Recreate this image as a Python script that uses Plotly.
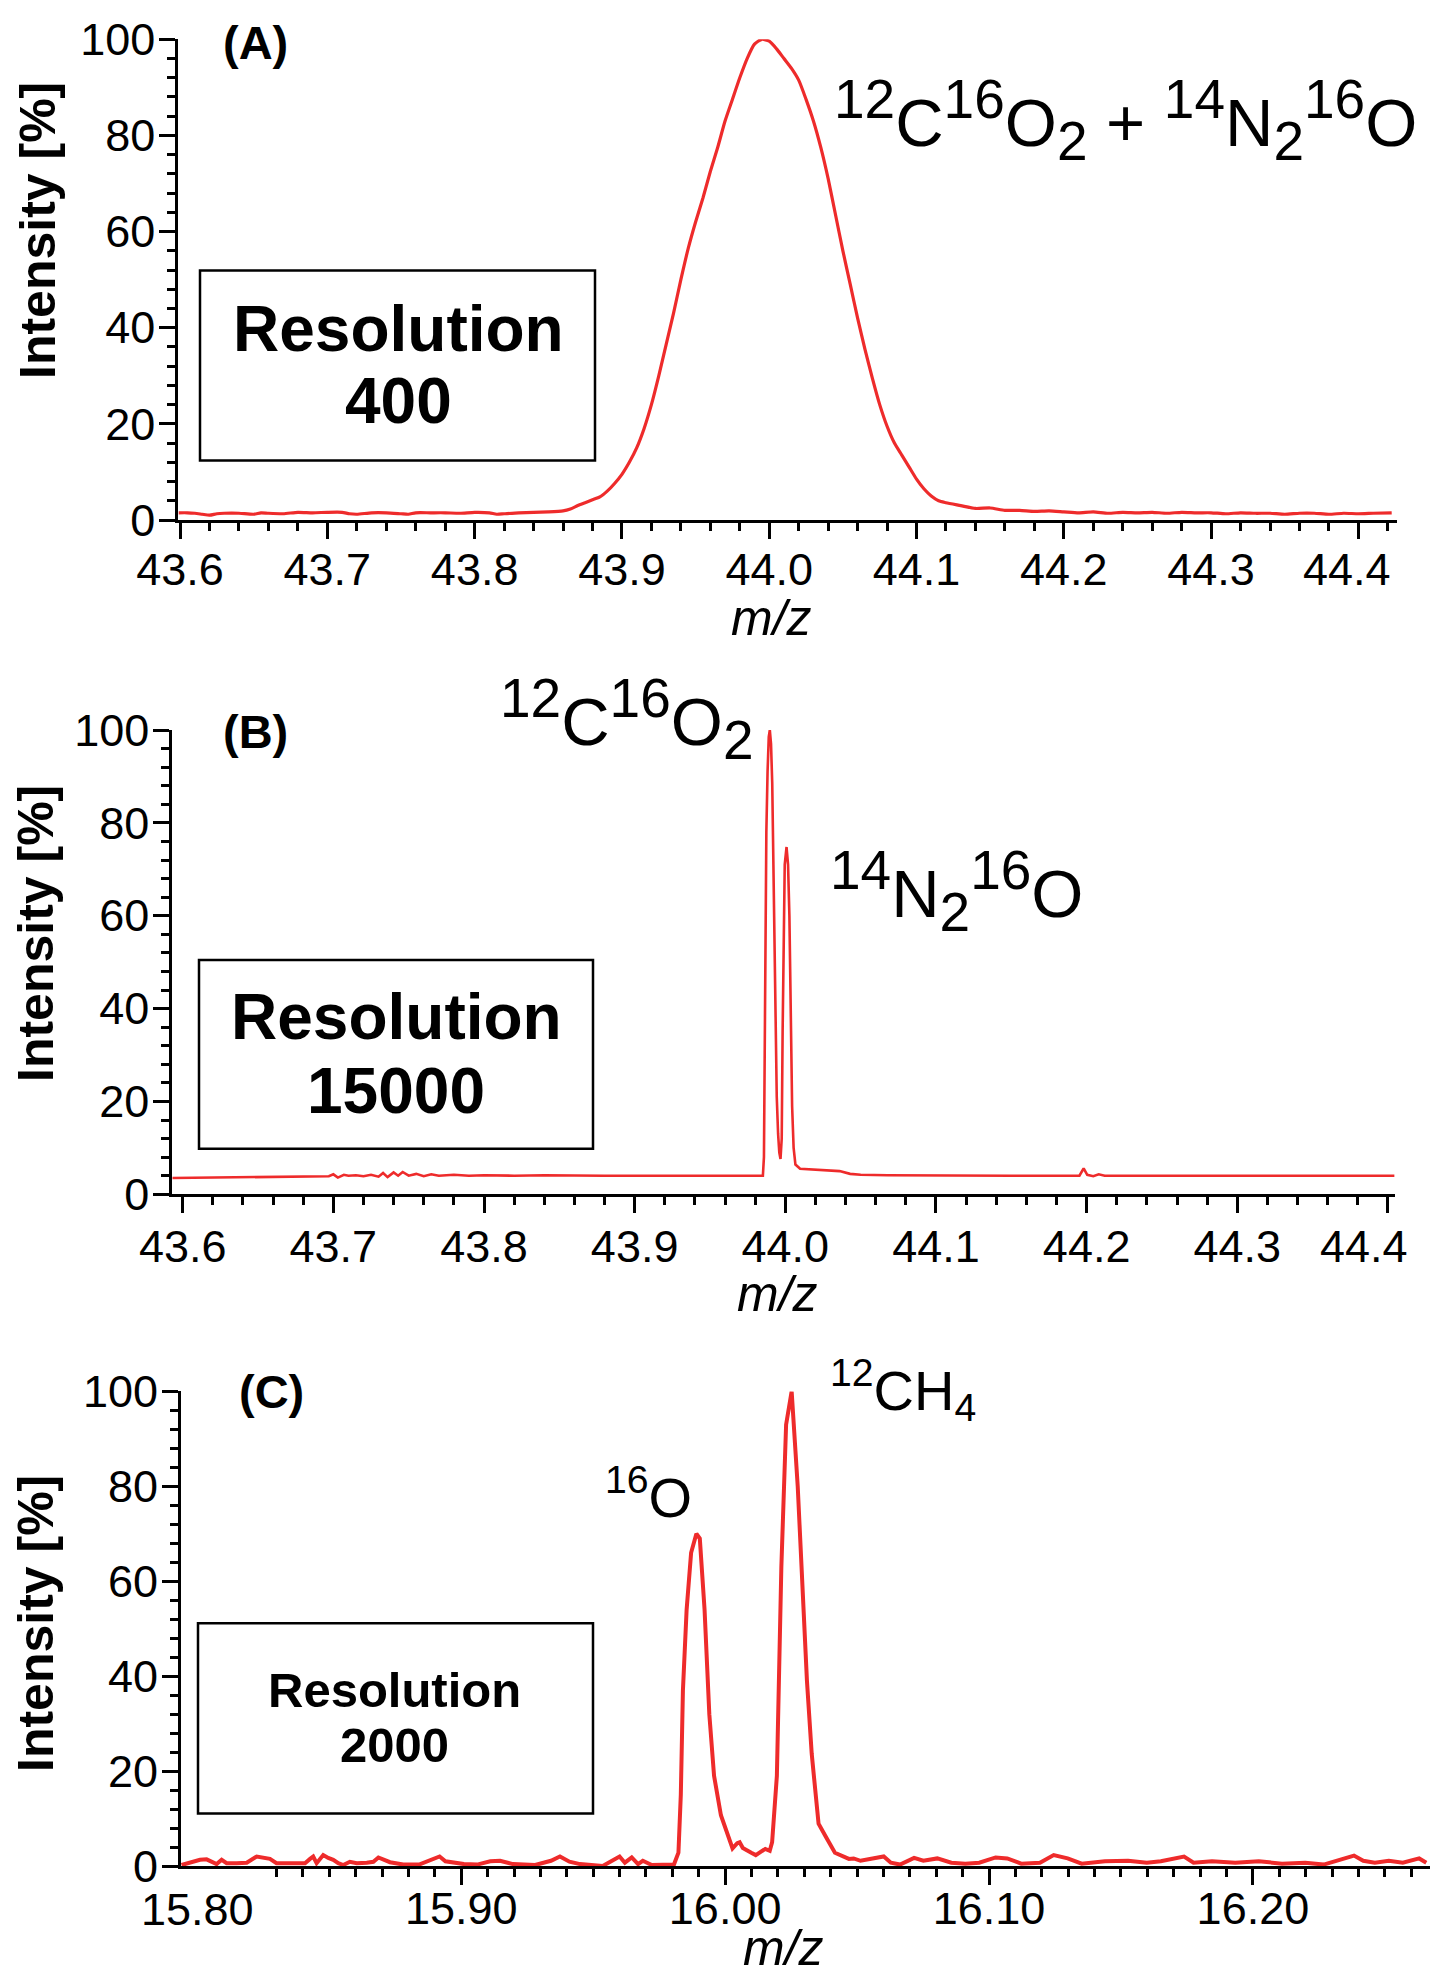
import plotly.graph_objects as go

W, H = 1430, 1967
RED = "#EE2B2B"
FONT = "Liberation Sans, Arial, Helvetica, sans-serif"

# ---------------- data ----------------
# Panel A : resolution 400
A_MZ = [43.599, 43.605, 43.61, 43.615, 43.62, 43.625, 43.63, 43.64, 43.65, 43.655,
        43.66, 43.67, 43.68, 43.69, 43.70, 43.71, 43.715, 43.72, 43.73, 43.74,
        43.75, 43.755, 43.76, 43.77, 43.78, 43.79, 43.80, 43.81, 43.815, 43.82,
        43.83, 43.84, 43.85, 43.86, 43.865, 43.87, 43.875, 43.88, 43.885, 43.89,
        43.895, 43.90, 43.905, 43.91, 43.915, 43.92, 43.925, 43.93, 43.935, 43.94,
        43.945, 43.95, 43.955, 43.96, 43.965, 43.97, 43.975, 43.98, 43.985, 43.99,
        43.995, 44.00, 44.005, 44.01, 44.015, 44.02, 44.025, 44.03, 44.035, 44.04,
        44.045, 44.05, 44.055, 44.06, 44.065, 44.07, 44.075, 44.08, 44.085, 44.09,
        44.095, 44.10, 44.105, 44.11, 44.115, 44.12, 44.13, 44.14, 44.15, 44.16,
        44.17, 44.18, 44.19, 44.20, 44.21, 44.22, 44.23, 44.24, 44.25, 44.26,
        44.27, 44.28, 44.29, 44.30, 44.31, 44.32, 44.33, 44.34, 44.35, 44.36,
        44.37, 44.38, 44.39, 44.40, 44.41, 44.4226]
A_INT = [1.5, 1.5, 1.4, 1.2, 1.0, 1.3, 1.4, 1.4, 1.2, 1.5,
         1.4, 1.3, 1.6, 1.5, 1.6, 1.6, 1.3, 1.2, 1.5, 1.5,
         1.3, 1.2, 1.5, 1.5, 1.5, 1.4, 1.6, 1.5, 1.2, 1.3,
         1.5, 1.6, 1.7, 1.9, 2.3, 3.0, 3.6, 4.2, 4.8, 6.0,
         7.6, 9.5, 12.0, 15.0, 19.0, 24.0, 30.0, 36.5, 43.0, 50.0,
         56.5, 62.0, 67.0, 72.5, 77.5, 83.0, 87.5, 92.0, 96.0, 99.0,
         100.0, 99.6, 98.0, 96.0, 94.0, 91.5, 87.5, 83.0, 77.5, 71.0,
         63.5, 56.0, 49.0, 42.0, 35.5, 29.5, 24.0, 19.5, 16.0, 13.5,
         11.0, 8.5, 6.5, 5.0, 4.0, 3.6, 3.0, 2.4, 2.5, 2.0,
         2.0, 1.8, 1.9, 1.7, 1.5, 1.7, 1.4, 1.6, 1.5, 1.6,
         1.4, 1.6, 1.5, 1.5, 1.3, 1.5, 1.4, 1.4, 1.2, 1.4,
         1.4, 1.2, 1.4, 1.3, 1.4, 1.5]

# Panel B : resolution 15000
B_MZ = [43.5931, 43.695, 43.697, 43.700, 43.703, 43.707, 43.710, 43.715, 43.720, 43.725,
        43.730, 43.733, 43.736, 43.740, 43.743, 43.746, 43.750, 43.755, 43.760, 43.765,
        43.770, 43.780, 43.790, 43.800, 43.820, 43.840, 43.860, 43.880, 43.900, 43.920,
        43.940, 43.960, 43.975, 43.982, 43.9851, 43.9858, 43.9862, 43.9866, 43.9874, 43.9882,
        43.9890, 43.9897, 43.9905, 43.9913, 43.9920, 43.9928, 43.9936, 43.9943, 43.9952, 43.9960,
        43.9968, 43.9976, 43.9982, 43.9988, 43.9996, 44.0008, 44.0018, 44.0027, 44.0036, 44.0045,
        44.0055, 44.0067, 44.0098, 44.020, 44.030, 44.036, 44.043, 44.050, 44.068, 44.100,
        44.150, 44.1952, 44.198, 44.2004, 44.2044, 44.208, 44.212, 44.250, 44.300, 44.350,
        44.4044]
B_INT = [3.5, 3.9, 3.9, 4.3, 3.6, 4.2, 4.0, 4.1, 3.9, 4.2,
         3.8, 4.6, 3.7, 4.7, 4.0, 4.8, 4.0, 4.4, 3.9, 4.3,
         4.0, 4.2, 4.0, 4.1, 4.0, 4.1, 4.0, 4.0, 4.0, 4.0,
         4.0, 4.0, 4.0, 4.0, 4.0, 8.0, 25.0, 54.0, 78.0, 91.0,
         98.5, 100.0, 97.0, 88.6, 73.0, 54.0, 35.0, 21.0, 13.0, 9.0,
         7.6, 12.0, 35.0, 58.0, 71.0, 74.8, 71.0, 60.0, 38.0, 19.0,
         10.0, 6.4, 5.5, 5.3, 5.1, 5.0, 4.4, 4.2, 4.1, 4.0,
         4.0, 4.0, 5.6, 4.2, 3.9, 4.3, 4.0, 4.0, 4.0, 4.0,
         4.0]

# Panel C : resolution 2000
C_MZ = [15.794, 15.7984, 15.801, 15.8035, 15.8054, 15.8073, 15.8092, 15.8111, 15.8149, 15.8187,
        15.8225, 15.825, 15.8275, 15.830, 15.8338, 15.8376, 15.8408, 15.8427, 15.8439, 15.8452,
        15.8477, 15.8496, 15.8515, 15.8534, 15.8553, 15.8578, 15.8604, 15.8642, 15.8667, 15.8686,
        15.873, 15.878, 15.884, 15.8918, 15.894, 15.901, 15.906, 15.911, 15.9147, 15.9196,
        15.928, 15.934, 15.9374, 15.941, 15.945, 15.9536, 15.960, 15.962, 15.9646, 15.967,
        15.9688, 15.9722, 15.979, 15.9806, 15.9823, 15.9832, 15.9840, 15.9854, 15.9871, 15.9891,
        15.9904, 15.9922, 15.9940, 15.9958, 15.9984, 16.0002, 16.0014, 16.0028, 16.0046, 16.0055,
        16.0067, 16.0081, 16.0099, 16.0116, 16.0134, 16.0152, 16.0169, 16.0178, 16.0196, 16.0213,
        16.0231, 16.0252, 16.0275, 16.0293, 16.0310, 16.0328, 16.0354, 16.0381, 16.0416, 16.0469,
        16.0487, 16.0513, 16.0557, 16.0601, 16.0628, 16.0663, 16.0716, 16.0751, 16.0804, 16.0857,
        16.0910, 16.0963, 16.1025, 16.1069, 16.1122, 16.1193, 16.1245, 16.1298, 16.1351, 16.1439,
        16.1527, 16.1598, 16.1651, 16.1739, 16.1775, 16.1845, 16.1933, 16.2022, 16.2110, 16.2198,
        16.2268, 16.2321, 16.2383, 16.2418, 16.2462, 16.2515, 16.2568, 16.2630, 16.2657]
C_INT = [0.2, 0.9, 1.3, 1.4, 0.9, 0.4, 1.3, 0.6, 0.6, 0.7,
         2.0, 1.7, 1.5, 0.6, 0.6, 0.7, 0.6, 1.5, 2.0, 0.6,
         2.3, 1.7, 1.3, 0.6, 0.2, 0.9, 0.6, 0.7, 0.9, 1.8,
         0.8, 0.3, 0.3, 2.0, 1.0, 0.4, 0.3, 1.0, 1.1, 0.4,
         0.2, 1.1, 2.0, 0.9, 0.4, 0.0, 2.0, 0.7, 1.8, 0.4,
         1.1, 0.2, 0.3, 0.3, 2.8, 15.0, 37.0, 54.0, 66.0, 70.0,
         69.0, 54.0, 32.0, 19.0, 10.7, 7.6, 5.5, 3.7, 4.8, 5.0,
         3.8, 3.3, 2.8, 2.3, 3.0, 3.6, 3.2, 5.0, 19.0, 63.0,
         93.0, 100.0, 80.0, 58.5, 39.0, 23.7, 8.9, 6.2, 2.8, 1.5,
         1.6, 1.1, 1.6, 2.0, 0.7, 0.3, 1.7, 1.1, 1.6, 0.7,
         0.5, 0.7, 1.8, 1.6, 0.5, 0.7, 2.3, 1.6, 0.5, 1.0,
         1.1, 0.7, 1.0, 2.0, 0.7, 1.0, 0.7, 1.0, 0.5, 0.7,
         0.3, 1.1, 2.2, 1.1, 0.7, 1.1, 0.7, 1.6, 0.7]

assert len(A_MZ) == len(A_INT) and len(B_MZ) == len(B_INT) and len(C_MZ) == len(C_INT)

Y_TICKS = [0, 20, 40, 60, 80, 100]
AB_TICKS = [43.6, 43.7, 43.8, 43.9, 44.0, 44.1, 44.2, 44.3, 44.4]
AB_LABELS = ["43.6", "43.7", "43.8", "43.9", "44.0", "44.1", "44.2", "44.3", ""]
AB_LAST_LABEL = "44.4"
C_MAJOR = [15.85, 15.90, 15.95, 16.00, 16.05, 16.10, 16.15, 16.20, 16.25]
C_LABELS = ["", "15.90", "", "16.00", "", "16.10", "", "16.20", ""]
C_FIRST_LABEL = "15.80"
RESOLUTIONS = ["400", "15000", "2000"]
PANEL_TAGS = ["(A)", "(B)", "(C)"]

# ---------------- helpers ----------------
def px(x):
    return x / W


def py(y):
    return 1 - y / H


TICKFONT = 45
AX_COMMON = dict(showline=True, linecolor="black", linewidth=3, ticks="outside",
                 ticklen=16, tickwidth=2.5, tickcolor="black", showgrid=False,
                 zeroline=False, automargin=False, ticklabeloverflow="allow",
                 tickfont=dict(family=FONT, size=TICKFONT, color="black"))

fig = go.Figure()
panels = [
    # suffix, x, y, x-domain px, y-domain px, x-range, line width, shape, x label standoff
    ("", A_MZ, A_INT, (178.3, 1396.7), (39.3, 520.0), (43.5988, 44.426), 3.2, "spline", -8),
    ("2", B_MZ, B_INT, (172.3, 1394.6), (730.0, 1194.3), (43.5931, 44.4044), 2.6, "linear", -5),
    ("3", C_MZ, C_INT, (181.0, 1430.0), (1391.4, 1866.0), (15.7938, 16.2671), 4.0, "linear", -15),
]

layout = dict(template="none", width=W, height=H, margin=dict(l=0, r=0, t=0, b=0, pad=0),
              paper_bgcolor="white", plot_bgcolor="white", showlegend=False,
              font=dict(family=FONT, color="black"))

for i, (sfx, xs, ys, xd, yd, xr, lw, shape, xso) in enumerate(panels):
    line = dict(color=RED, width=lw, shape=shape)
    if shape == "spline":
        line["smoothing"] = 0.6
    fig.add_trace(go.Scatter(x=xs, y=ys, mode="lines", xaxis="x" + sfx, yaxis="y" + sfx,
                             line=line, hoverinfo="skip"))
    xa = dict(AX_COMMON, domain=[px(xd[0]), px(xd[1])], range=list(xr),
              anchor="y" + sfx, ticklabelstandoff=xso)
    if i < 2:
        xa.update(tickmode="array", tickvals=AB_TICKS, ticktext=AB_LABELS,
                  minor=dict(tickmode="linear", tick0=43.6, dtick=0.02, ticks="outside",
                             ticklen=8, tickwidth=2.5, tickcolor="black", showgrid=False))
    else:
        minor_vals = [round(15.83 + 0.01 * k, 2) for k in range(44)]
        xa.update(tickmode="array", tickvals=C_MAJOR, ticktext=C_LABELS,
                  minor=dict(tickmode="array", tickvals=minor_vals, ticks="outside",
                             ticklen=8, tickwidth=2.5, tickcolor="black", showgrid=False))
    ya = dict(AX_COMMON, domain=[py(yd[1]), py(yd[0])], range=[0, 100],
              anchor="x" + sfx, tickmode="array", tickvals=Y_TICKS,
              ticktext=[str(v) for v in Y_TICKS], ticklabelstandoff=-5,
              minor=dict(tickmode="linear", tick0=0, dtick=4, ticks="outside",
                         ticklen=8, tickwidth=2.5, tickcolor="black", showgrid=False))
    layout["xaxis" + sfx] = xa
    layout["yaxis" + sfx] = ya

fig.update_layout(**layout)

ann = []
shapes = []


def text(x, y, s, size, xanchor="center", yanchor="middle", angle=0):
    ann.append(dict(x=px(x), y=py(y), xref="paper", yref="paper", text=s, showarrow=False,
                    xanchor=xanchor, yanchor=yanchor, textangle=angle,
                    font=dict(family=FONT, size=size, color="black")))


# y-axis titles
for cx, cy in [(38, 231), (36, 934), (36, 1624)]:
    text(cx, cy, "<b>Intensity [%]</b>", 50, angle=-90)

# x-axis titles
for cx, cy in [(772, 618), (777, 1294), (783, 1948)]:
    text(cx, cy, "<i>m/z</i>", 50)

# panel tags
for (cx, cy), tag in zip([(255, 43), (255, 731), (271, 1391)], PANEL_TAGS):
    text(cx, cy, f"<b>{tag}</b>", 47)

# last x tick label of panels A and B (drawn pulled inward, as in the original)
text(1347, 569, AB_LAST_LABEL, TICKFONT)
text(1364, 1246, AB_LAST_LABEL, TICKFONT)

# resolution boxes
boxes = [(200, 270.6, 595, 460.4), (199, 960, 593, 1148.7), (198, 1623.3, 593, 1813.6)]
res_text = [((398, 329), (398, 401), 64), ((396, 1017), (396, 1091), 64),
            ((394, 1690), (394, 1745), 49)]
for (x0, y0, x1, y1), ((ax, ay), (bx, by), fs), r in zip(boxes, res_text, RESOLUTIONS):
    shapes.append(dict(type="rect", xref="paper", yref="paper", x0=px(x0), x1=px(x1),
                       y0=py(y1), y1=py(y0), line=dict(color="black", width=2.5)))
    text(ax, ay, "<b>Resolution</b>", fs)
    text(bx, by, f"<b>{r}</b>", fs)


def iso(mass, el, sz):
    return f"<sup><span style='font-size:{sz}px'>{mass}</span></sup>{el}"


def sub(n, sz):
    return f"<sub><span style='font-size:{sz}px'>{n}</span></sub>"


S = 55
F = 67
co2 = iso("12", "C", S) + iso("16", "O", S) + sub("2", S)
n2o = iso("14", "N", S) + sub("2", S) + iso("16", "O", S)
text(832, 120, co2 + " + " + n2o, F, xanchor="left")
text(498, 719, co2, F, xanchor="left")
text(828, 891, n2o, F, xanchor="left")
text(603, 1493, "<sup>16</sup>O", 56, xanchor="left")
text(828, 1390, "<sup>12</sup>CH<sub>4</sub>", 56, xanchor="left")

# first label of panel C (no tick drawn there in the original)
ann.append(dict(x=15.80, y=py(1909), xref="x3", yref="paper", text=C_FIRST_LABEL,
                showarrow=False, xanchor="center", yanchor="middle",
                font=dict(family=FONT, size=TICKFONT, color="black")))

fig.update_layout(annotations=ann, shapes=shapes)
fig.write_html("out.html")
